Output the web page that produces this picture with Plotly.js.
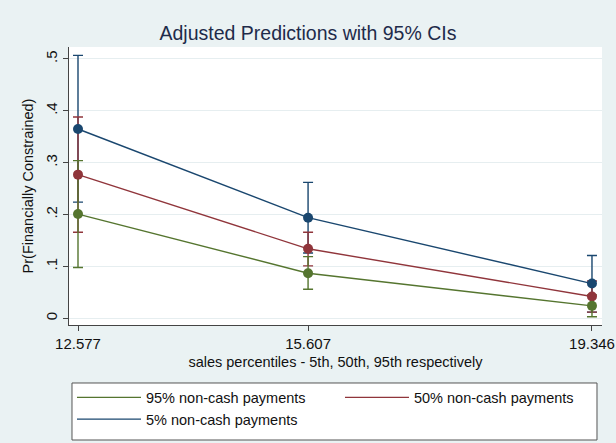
<!DOCTYPE html>
<html>
<head>
<meta charset="utf-8">
<script src="https://cdn.plot.ly/plotly-3.0.1.min.js"></script>
<style>html,body{margin:0;padding:0;background:#eaf2f3;}#chart{width:616px;height:443px;}</style>
</head>
<body>
<div id="chart"></div>
<script>
const xValues = [12.577, 15.607, 19.346];
const xTickText = ["12.577", "15.607", "19.346"];
const yTickVals = [0, 0.1, 0.2, 0.3, 0.4, 0.5];
const yTickText = ["0", ".1", ".2", ".3", ".4", ".5"];

const seriesNames = ["95% non-cash payments", "50% non-cash payments", "5% non-cash payments"];
const seriesColors = ["#55752f", "#90353b", "#1a476f"];

const green95 = [0.201, 0.087, 0.024];
const green95Lo = [0.098, 0.056, 0.003];
const green95Hi = [0.304, 0.119, 0.045];

const red50 = [0.277, 0.134, 0.042];
const red50Lo = [0.166, 0.101, 0.012];
const red50Hi = [0.388, 0.166, 0.072];

const blue5 = [0.365, 0.194, 0.067];
const blue5Lo = [0.224, 0.126, 0.012];
const blue5Hi = [0.507, 0.262, 0.121];

const series = [
  {name: seriesNames[2], color: seriesColors[2], y: blue5, lo: blue5Lo, hi: blue5Hi},
  {name: seriesNames[1], color: seriesColors[1], y: red50, lo: red50Lo, hi: red50Hi},
  {name: seriesNames[0], color: seriesColors[0], y: green95, lo: green95Lo, hi: green95Hi}
];

const traces = [];
// CI caps (drawn beneath lines/markers)
series.forEach(s => {
  traces.push({
    type: 'scatter', mode: 'markers', x: xValues, y: s.y,
    marker: {size: 1, opacity: 0, color: s.color},
    error_y: {type: 'data', symmetric: false,
      array: s.hi.map((h, i) => h - s.y[i]),
      arrayminus: s.y.map((v, i) => v - s.lo[i]),
      color: s.color, thickness: 1.4, width: 5},
    showlegend: false, hoverinfo: 'skip'
  });
});
// lines + markers
series.forEach(s => {
  traces.push({
    type: 'scatter', mode: 'lines+markers', x: xValues, y: s.y,
    line: {color: s.color, width: 1.4},
    marker: {color: s.color, size: 10},
    showlegend: false
  });
});
// legend entries
[0, 1, 2].forEach(i => {
  traces.push({
    type: 'scatter', mode: 'lines', x: [null], y: [null],
    name: seriesNames[i], line: {color: seriesColors[i], width: 1.3},
    showlegend: true
  });
});

const fam = 'Liberation Sans, Arial, sans-serif';

const layout = {
  width: 616, height: 443,
  paper_bgcolor: '#eaf2f3', plot_bgcolor: '#ffffff',
  margin: {l: 69, r: 14, t: 47, b: 118, autoexpand: false},
  font: {family: fam, size: 14.5, color: '#111'},
  title: {text: 'Adjusted Predictions with 95% CIs', x: 0.5, xanchor: 'center', y: 0.925, yanchor: 'middle',
    font: {family: fam, size: 19.5, color: '#1e2b4a'}},
  xaxis: {
    range: [12.4585, 19.478], tickmode: 'array', tickvals: xValues, ticktext: xTickText,
    showgrid: false, zeroline: false, showline: true, linecolor: '#444', linewidth: 1,
    ticks: 'outside', ticklen: 5, tickcolor: '#444', tickfont: {size: 15, color: '#111'},
    ticklabelstandoff: 0, automargin: false,
    title: {text: 'sales percentiles - 5th, 50th, 95th respectively', font: {size: 14.5, color: '#111'}, standoff: 5}
  },
  yaxis: {
    range: [-0.0129, 0.5231], tickmode: 'array', tickvals: yTickVals, ticktext: yTickText,
    tickangle: -90, showgrid: true, gridcolor: '#e6eef0', gridwidth: 1,
    zeroline: false, showline: true, linecolor: '#444', linewidth: 1,
    ticks: 'outside', ticklen: 5, tickcolor: '#444', tickfont: {size: 15, color: '#111'},
    automargin: false,
    title: {text: 'Pr(Financially Constrained)', font: {size: 14.5, color: '#111'}, standoff: 5}
  },
  legend: {
    orientation: 'h', x: 0.0056, xanchor: 'left', y: -0.203, yanchor: 'top',
    bgcolor: 'rgba(0,0,0,0)', borderwidth: 0,
    font: {size: 14.5, color: '#111'}, itemwidth: 64, entrywidth: 189, traceorder: 'normal'
  },
  shapes: [{
    type: 'rect', xref: 'paper', yref: 'paper', layer: 'below',
    x0: 0.0056, x1: 0.9906, y0: -0.4137, y1: -0.2086,
    line: {color: '#555', width: 1}, fillcolor: '#ffffff'
  }],
  showlegend: true
};

Plotly.newPlot('chart', traces, layout, {displayModeBar: false, staticPlot: true});
</script>
</body>
</html>
